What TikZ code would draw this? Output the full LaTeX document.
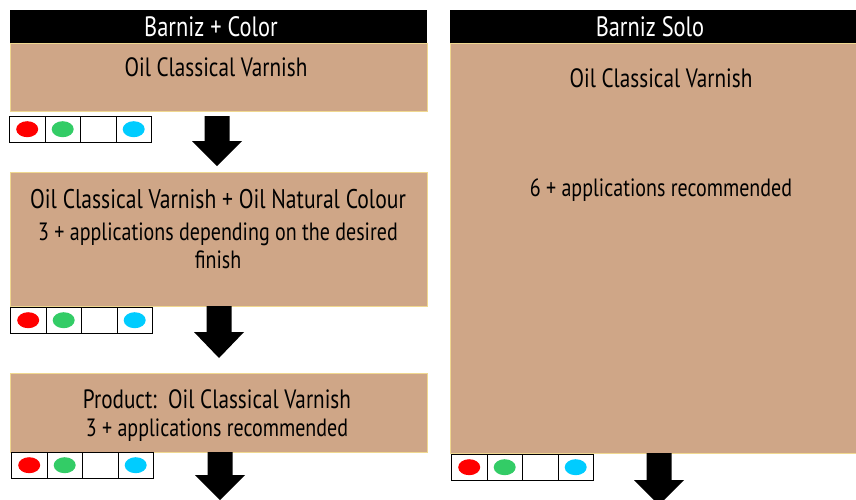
\documentclass[tikz,border=0pt]{standalone}
\usepackage{fontspec}
\setmainfont[FakeStretch=0.8]{PT Sans}
\definecolor{boxtan}{HTML}{CFA687}
\definecolor{boxedge}{HTML}{F0D890}
\definecolor{dotred}{HTML}{FF0000}
\definecolor{dotgreen}{HTML}{33CC66}
\definecolor{dotcyan}{HTML}{00CCFF}
\newcommand\colorstrip[3]{% x, y, name
  \foreach \i/\c in {0/dotred,1/dotgreen,2/white,3/dotcyan}{
    \node[cell] (#3\i) at ({#1+35.5*\i},#2) {};
    \fill[\c] (#3\i.center) ellipse [x radius=11pt, y radius=8pt];
  }}
\newcommand\blockarrow[4]{% cx, ytop, yhead, ytip
  \fill[black] ({#1-12.5},#2) -- ({#1+12.5},#2) -- ({#1+12.5},#3) -- ({#1+25},#3)
     -- (#1,#4) -- ({#1-25},#3) -- ({#1-12.5},#3) -- cycle;}
\begin{document}
\begin{tikzpicture}[x=1pt,y=-1pt,
  hdr/.style={fill=black, anchor=north west, inner sep=0, minimum height=33pt},
  box/.style={draw=boxedge, line width=1.3pt, fill=boxtan, anchor=north west, inner sep=0},
  cell/.style={draw=black, line width=0.9pt, fill=white, anchor=north west, inner sep=0,
     minimum width=35.5pt, minimum height=25.5pt},
  htext/.style={text=white, font=\fontsize{28}{30}\selectfont},
  btext/.style={text=black, font=\fontsize{26.5}{30}\selectfont, align=center},
  stext/.style={text=black, font=\fontsize{25}{28}\selectfont, align=center}]
\useasboundingbox (0,0) rectangle (856,499);
% left column
\node[hdr, minimum width=417pt] (h1) at (10,10) {};
\node[htext] (h1t) at (211,27) {Barniz + Color};
\node[box, minimum width=417pt, minimum height=68pt] (b1) at (10,43) {};
\node[btext] (b1t) at (216,67) {Oil Classical Varnish};
\colorstrip{9}{116}{sa}
\blockarrow{217}{116}{141}{166}
\node[box, minimum width=417pt, minimum height=134pt] (b2) at (10,172) {};
\node[btext, font=\fontsize{27}{30}\selectfont] (b2t) at (218,199) {Oil Classical Varnish + Oil Natural Colour};
\node[stext] (b2s) at (218,246) {3 + applications depending on the desired\\finish};
\colorstrip{10}{307}{sb}
\blockarrow{219}{306}{332}{358}
\node[box, minimum width=417pt, minimum height=79pt] (b3) at (10,373) {};
\node[btext] (b3t) at (217,399) {Product:\ \ Oil Classical Varnish};
\node[stext] (b3s) at (217,430) {3 + applications recommended};
\colorstrip{11}{452}{sc}
\blockarrow{220}{452}{475}{500}
% right column
\node[hdr, minimum width=410pt] (h2) at (450,10) {};
\node[htext] (h2t) at (650,27) {Barniz Solo};
\node[box, minimum width=410pt, minimum height=410pt] (r1) at (450,43) {};
\node[btext] (r1t) at (661,78) {Oil Classical Varnish};
\node[stext] (r1s) at (661,190) {6 + applications recommended};
\colorstrip{451}{454}{sd}
\blockarrow{659}{453}{480}{505}
\end{tikzpicture}
\end{document}
